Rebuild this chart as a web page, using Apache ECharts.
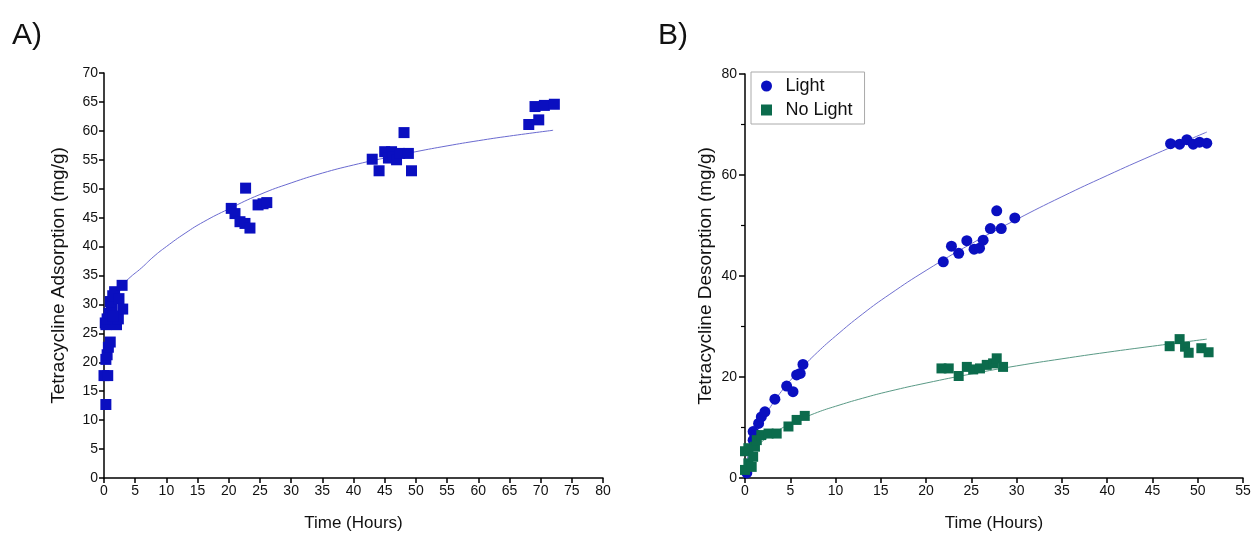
<!DOCTYPE html>
<html>
<head>
<meta charset="utf-8">
<script src="https://cdn.jsdelivr.net/npm/echarts@6/dist/echarts.min.js"></script>
<style>
html,body{margin:0;padding:0;background:#fff;}
#c{width:1256px;height:538px;}
</style>
</head>
<body>
<div id="c"></div>
<script>
// Panel A: adsorption data
const aTime = [0.2,0.3,0.3,0.0,0.6,0.3,0.5,0.7,1.0,0.5,0.8,1.2,1.0,1.4,1.7,2.0,2.3,2.4,2.9,3.0,1.5,
  20.4,21.0,21.8,22.6,22.7,23.4,24.7,25.5,26.1,
  43.0,44.1,45.0,45.6,46.1,46.4,46.9,47.4,48.1,48.8,49.3,
  68.1,69.1,69.7,70.6,72.2];
const aAdsorption = [26.8,26.5,12.7,17.7,17.7,20.5,21.3,22.6,23.5,27.5,28.5,29.5,30.5,31.5,32.2,26.5,27.5,31.0,33.3,29.2,28.0,
  46.6,45.7,44.3,44.0,50.1,43.2,47.2,47.4,47.6,
  55.1,53.1,56.4,55.3,56.4,55.5,55.0,56.1,59.7,56.1,53.1,
  61.1,64.2,61.9,64.4,64.6];
const aFitTime = [2.5,3,4,6,8,10,13,16,20,25,30,35,40,45,50,55,60,65,72];
const aFitValue = [32.3,33.3,34.5,36.3,38.3,40.0,42.3,44.3,46.5,49.0,51.0,52.7,54.1,55.3,56.4,57.4,58.3,59.1,60.1];

// Panel B: desorption data
const bLightTime = [0.2,0.9,0.9,1.2,1.5,1.8,2.2,3.3,4.6,5.3,5.7,6.1,6.4,
  21.9,22.8,23.6,24.5,25.3,25.9,26.3,27.1,27.8,28.3,29.8,
  47.0,48.0,48.8,49.5,50.2,51.0];
const bLightValue = [1.0,7.5,9.2,8.6,10.8,12.1,13.1,15.6,18.2,17.1,20.4,20.7,22.5,
  42.8,45.9,44.5,47.0,45.3,45.5,47.1,49.4,52.9,49.4,51.5,
  66.2,66.1,67.0,66.1,66.5,66.3];
const bDarkTime = [0.0,0.0,0.37,0.37,0.74,0.9,1.1,1.3,1.8,2.6,3.5,4.8,5.7,6.6,
  21.7,22.5,23.6,24.5,25.2,25.95,26.7,27.4,27.8,28.5,
  46.9,48.0,48.6,49.0,50.4,51.2];
const bDarkValue = [1.6,5.3,2.9,5.9,2.2,4.2,6.2,7.5,8.5,8.8,8.8,10.2,11.5,12.3,
  21.7,21.7,20.2,22.0,21.5,21.7,22.4,22.7,23.7,22.0,
  26.1,27.5,26.0,24.8,25.7,24.9];
const bFitTime = [0.1,0.3,0.6,1,1.5,2,3,4,5,6,8,10,13,16,20,25,30,35,40,45,51];
const bLightFit = [2.3,4.2,6.1,8.0,10.0,11.7,14.6,17.1,19.3,21.3,24.9,28.1,32.5,36.4,41.1,46.4,51.2,55.7,59.9,63.9,68.5];
const bDarkFit = [2.2,3.4,4.5,5.6,6.6,7.4,8.7,9.8,10.7,11.5,13.0,14.2,15.8,17.2,18.8,20.6,22.2,23.6,24.9,26.1,27.5];

const aXTicks = 5, aYTicks = 5, bXTicks = 5, bYTicks = 20;

const zip = (xs, ys) => xs.map((x, i) => [x, ys[i]]);

const FONT = 'Liberation Sans, Arial, sans-serif';
const blue = '#0a0fc0';
const green = '#0b6b4c';

function xAxisBase(gridIndex, max, interval) {
  return {
    gridIndex, type: 'value', min: 0, max, interval,
    name: 'Time (Hours)', nameLocation: 'middle', nameGap: 37,
    nameTextStyle: {fontFamily: FONT, fontSize: 17, color: '#111'},
    axisLine: {show: true, onZero: false, lineStyle: {color: '#000', width: 1.5}},
    axisTick: {show: true, length: 5, lineStyle: {color: '#000', width: 1.5}},
    axisLabel: {fontFamily: FONT, fontSize: 14, color: '#111', margin: 6},
    splitLine: {show: false}
  };
}

const chart = echarts.init(document.getElementById('c'), null, {renderer: 'canvas'});
chart.setOption({
  animation: false,
  backgroundColor: '#fff',
  textStyle: {fontFamily: FONT},
  title: [
    {text: 'A)', left: 7, top: 16, textStyle: {fontFamily: FONT, fontSize: 30, fontWeight: 'normal', color: '#111'}},
    {text: 'B)', left: 653, top: 16, textStyle: {fontFamily: FONT, fontSize: 30, fontWeight: 'normal', color: '#111'}}
  ],
  legend: {
    show: true,
    left: 751, top: 72,
    orient: 'vertical',
    borderColor: '#aaa', borderWidth: 1,
    padding: [5, 12, 5, 10],
    itemGap: 6,
    itemWidth: 28, itemHeight: 11,
    symbolKeepAspect: true,
    textStyle: {fontFamily: FONT, fontSize: 18, color: '#111'},
    data: [
      {name: 'Light', icon: 'circle'},
      {name: 'No Light', icon: 'path://M0,0L10,0L10,10L0,10Z'}
    ]
  },
  grid: [
    {left: 104, top: 73, width: 499, height: 405},
    {left: 745, top: 74, width: 498, height: 404}
  ],
  xAxis: [
    xAxisBase(0, 80, aXTicks),
    xAxisBase(1, 55, bXTicks)
  ],
  yAxis: [
    {
      gridIndex: 0, type: 'value', min: 0, max: 70, interval: aYTicks,
      name: 'Tetracycline Adsorption (mg/g)', nameLocation: 'middle', nameGap: 36,
      nameTextStyle: {fontFamily: FONT, fontSize: 19, color: '#111'},
      axisLine: {show: true, lineStyle: {color: '#000', width: 1.5}},
      axisTick: {show: true, length: 5, lineStyle: {color: '#000', width: 1.5}},
      axisLabel: {fontFamily: FONT, fontSize: 14, color: '#111', margin: 6},
      splitLine: {show: false}
    },
    {
      gridIndex: 1, type: 'value', min: 0, max: 80, interval: bYTicks,
      name: 'Tetracycline Desorption (mg/g)', nameLocation: 'middle', nameGap: 30,
      nameTextStyle: {fontFamily: FONT, fontSize: 19, color: '#111'},
      axisLine: {show: true, lineStyle: {color: '#000', width: 1.5}},
      axisTick: {show: true, length: 6, lineStyle: {color: '#000', width: 1.5}},
      minorTick: {show: true, splitNumber: 2, length: 4, lineStyle: {color: '#000', width: 1.2}},
      axisLabel: {fontFamily: FONT, fontSize: 14, color: '#111', margin: 8},
      splitLine: {show: false}
    }
  ],
  series: [
    {
      name: 'A fit', type: 'line', xAxisIndex: 0, yAxisIndex: 0,
      data: zip(aFitTime, aFitValue), smooth: true, showSymbol: false, symbol: 'none',
      lineStyle: {color: '#6a6ad0', width: 1}, z: 1, silent: true
    },
    {
      name: 'A data', type: 'scatter', xAxisIndex: 0, yAxisIndex: 0,
      data: zip(aTime, aAdsorption), symbol: 'rect', symbolSize: 11,
      itemStyle: {color: blue, opacity: 1}, z: 2
    },
    {
      name: 'Light fit', type: 'line', xAxisIndex: 1, yAxisIndex: 1,
      data: zip(bFitTime, bLightFit), smooth: true, showSymbol: false, symbol: 'none',
      lineStyle: {color: '#7070d0', width: 1}, z: 1, silent: true
    },
    {
      name: 'No Light fit', type: 'line', xAxisIndex: 1, yAxisIndex: 1,
      data: zip(bFitTime, bDarkFit), smooth: true, showSymbol: false, symbol: 'none',
      lineStyle: {color: '#5a9a86', width: 1}, z: 1, silent: true
    },
    {
      name: 'Light', type: 'scatter', xAxisIndex: 1, yAxisIndex: 1,
      data: zip(bLightTime, bLightValue), symbol: 'circle', symbolSize: 11,
      itemStyle: {color: blue, opacity: 1}, z: 2
    },
    {
      name: 'No Light', type: 'scatter', xAxisIndex: 1, yAxisIndex: 1,
      data: zip(bDarkTime, bDarkValue), symbol: 'rect', symbolSize: 10,
      itemStyle: {color: green, opacity: 1}, z: 2
    }
  ]
});
</script>
</body>
</html>
